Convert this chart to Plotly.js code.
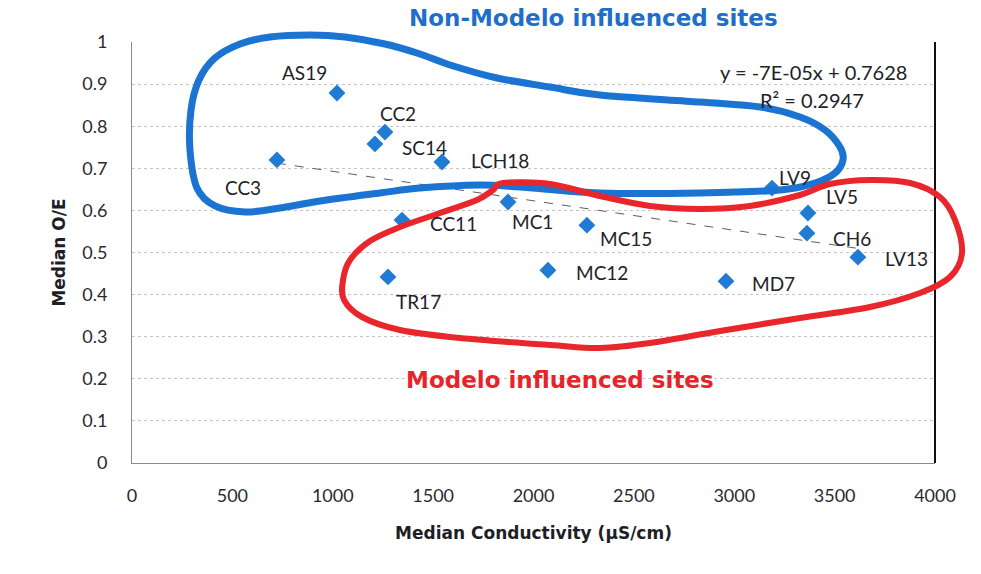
<!DOCTYPE html>
<html>
<head>
<meta charset="utf-8">
<script src="https://cdn.plot.ly/plotly-3.0.1.min.js"></script>
<style>html,body{margin:0;padding:0;background:#fff;}#chart{width:981px;height:574px;}</style>
</head>
<body>
<div id="chart"></div>
<script>
// ---- data ----
const sites = ['AS19','CC2','SC14','CC3','LCH18','CC11','MC1','MC15','MC12','TR17','MD7','LV9','LV5','CH6','LV13'];
const conductivity = [1021,1260,1210,722,1544,1345,1873,2266,2072,1275,2959,3188,3367,3362,3616];
const medianOE = [0.879,0.786,0.758,0.720,0.715,0.577,0.620,0.565,0.458,0.442,0.432,0.653,0.594,0.546,0.489];
const trendSlope = -7e-05;
const trendIntercept = 0.7628;
const equationText = 'y = -7E-05x + 0.7628';
const r2Text = 'R² = 0.2947';
const xTickVals = [0,500,1000,1500,2000,2500,3000,3500,4000];
const yTickVals = [0,0.1,0.2,0.3,0.4,0.5,0.6,0.7,0.8,0.9,1];

// ---- layout geometry (pixels) ----
const W = 981, H = 574;
const M = {l:132, r:46, t:42, b:111};
const PW = W - M.l - M.r, PH = H - M.t - M.b;
function toPaper(px, py){ return [(px - M.l)/PW, (H - M.b - py)/PH]; }
function smoothClosed(pts){
  const P = pts.map(p => toPaper(p[0], p[1]));
  const n = P.length;
  const f = v => v.toFixed(4);
  let d = 'M' + f(P[0][0]) + ',' + f(P[0][1]);
  for (let i = 0; i < n; i++){
    const p0 = P[(i-1+n)%n], p1 = P[i], p2 = P[(i+1)%n], p3 = P[(i+2)%n];
    const c1 = [p1[0] + (p2[0]-p0[0])/6, p1[1] + (p2[1]-p0[1])/6];
    const c2 = [p2[0] - (p3[0]-p1[0])/6, p2[1] - (p3[1]-p1[1])/6];
    d += ' C' + f(c1[0]) + ',' + f(c1[1]) + ' ' + f(c2[0]) + ',' + f(c2[1]) + ' ' + f(p2[0]) + ',' + f(p2[1]);
  }
  return d + ' Z';
}
// freehand loops (screen pixels)
const blueLoop = [[245,212],[215,206],[197,188],[190,150],[191,110],[199,80],[215,58],[240,44],[270,37],[310,35],[345,37],[385,44],[420,54],[450,65],[497,78],[550,87],[600,95],[700,102],[760,107],[800,117],[825,130],[840,147],[843,160],[835,173],[815,183],[780,190],[700,193],[600,193],[520,187],[480,185],[420,188],[380,193],[320,201],[280,208]];
const redLoop = [[503,183],[550,184],[600,196],[650,206],[700,209],[750,206],[800,195],[830,184],[870,180],[910,183],[940,197],[955,220],[962,253],[950,277],[920,293],[870,307],[800,318],[720,331],[650,343],[600,348],[550,345],[460,338],[400,330],[362,317],[344,300],[343,280],[350,260],[370,241],[400,227],[440,213],[477,200],[493,190]];

// label offsets in pixels relative to each point (dx right, dy up)
const labelDx = [-32,13,50,-34,58,51,24,39,54,31,47,23,34,45,49];
const labelDy = [20,19,-4,-28,1,-3,-20,-13,-2,-25,-2,11,16,-5,-1];

const font = 'Lato, "Open Sans", sans-serif';
const boldFont = '"DejaVu Sans", Verdana, sans-serif';
const textColor = '#222228';

const xMin = Math.min(...conductivity), xMax = Math.max(...conductivity);
const trendX = [xMin, xMax];
const trendY = trendX.map(x => trendSlope*x + trendIntercept);

const traces = [
  {x: trendX, y: trendY, mode: 'lines', type: 'scatter',
   line: {color: '#5e5e5e', width: 1, dash: 'dash'}, hoverinfo: 'skip', showlegend: false},
  {x: conductivity, y: medianOE, text: sites, mode: 'markers', type: 'scatter',
   marker: {symbol: 'diamond', size: 13, color: '#1f7bd4'}, showlegend: false, cliponaxis: false}
];

const annotations = sites.map((s, i) => ({
  x: conductivity[i], y: medianOE[i], xref: 'x', yref: 'y', text: s, showarrow: false,
  xanchor: 'center', yanchor: 'middle', xshift: labelDx[i], yshift: labelDy[i],
  font: {family: font, size: 19, color: textColor}
}));
const eq1 = toPaper(813, 72), eq2 = toPaper(812, 100);
annotations.push({xref:'paper', yref:'paper', x:eq1[0], y:eq1[1], text:equationText, showarrow:false,
  xanchor:'center', yanchor:'middle', font:{family:font, size:20, color:textColor}});
annotations.push({xref:'paper', yref:'paper', x:eq2[0], y:eq2[1], text:r2Text, showarrow:false,
  xanchor:'center', yanchor:'middle', font:{family:font, size:20, color:textColor}});
const t1 = toPaper(593, 18), t2 = toPaper(560, 380);
annotations.push({xref:'paper', yref:'paper', x:t1[0], y:t1[1], text:'<b>Non-Modelo influenced sites</b>', showarrow:false,
  xanchor:'center', yanchor:'middle', font:{family:boldFont, size:23, color:'#1f6fc8'}});
annotations.push({xref:'paper', yref:'paper', x:t2[0], y:t2[1], text:'<b>Modelo influenced sites</b>', showarrow:false,
  xanchor:'center', yanchor:'middle', font:{family:boldFont, size:23, color:'#e8232b'}});

const shapes = [
  {type:'line', xref:'paper', yref:'paper', x0:1, x1:1, y0:0, y1:1, line:{color:'#111', width:2}},
  {type:'path', xref:'paper', yref:'paper', path: smoothClosed(blueLoop), line:{color:'#1b74d2', width:7}},
  {type:'path', xref:'paper', yref:'paper', path: smoothClosed(redLoop), line:{color:'#e8262b', width:6}}
];

const layout = {
  width: W, height: H,
  margin: M,
  paper_bgcolor: '#ffffff', plot_bgcolor: '#ffffff',
  showlegend: false,
  xaxis: {range:[0,4000], tickvals: xTickVals, ticktext: xTickVals.map(String), showgrid:false, zeroline:false,
    showline:true, linecolor:'#8a8a8a', linewidth:1, ticks:'', ticklabelstandoff: 16,
    tickfont:{family:font, size:18, color:'#2a2a30'},
    title:{text:'<b>Median Conductivity (µS/cm)</b>', font:{family:boldFont, size:17, color:'#1e1e26'}, standoff: 22}},
  yaxis: {range:[0,1], tickvals: yTickVals, ticktext: yTickVals.map(String), showgrid:true, gridcolor:'#c4c4c4', griddash:'dot', gridwidth:1,
    zeroline:false, showline:true, linecolor:'#8a8a8a', linewidth:1, ticks:'', ticklabelstandoff: 20,
    tickfont:{family:font, size:18, color:'#2a2a30'},
    title:{text:'<b>Median O/E</b>', font:{family:boldFont, size:17, color:'#1e1e26'}, standoff: 12}},
  annotations: annotations,
  shapes: shapes
};

Plotly.newPlot('chart', traces, layout, {displayModeBar:false, staticPlot:true});
</script>
</body>
</html>
